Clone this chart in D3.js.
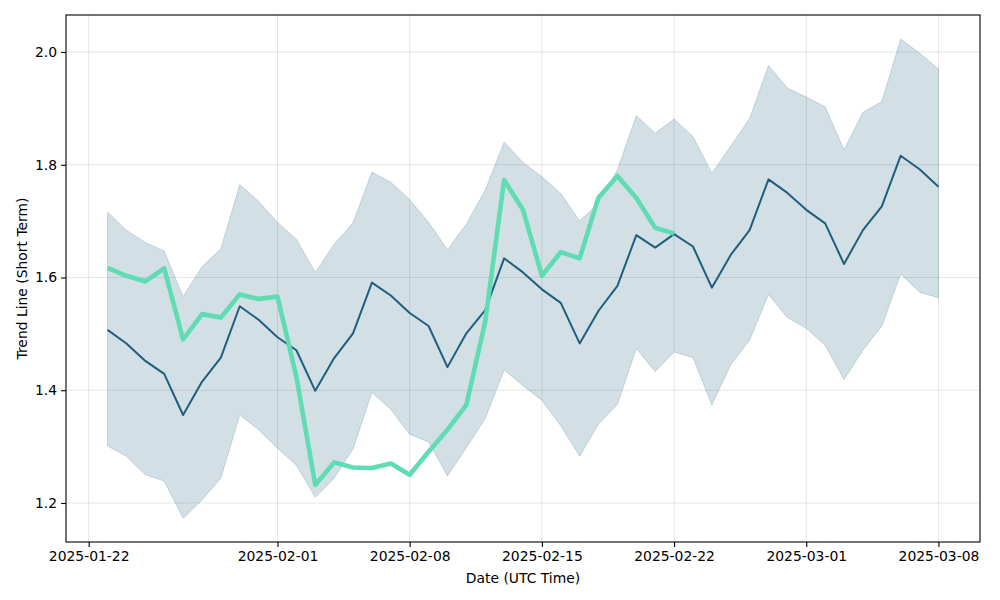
<!DOCTYPE html>
<html>
<head>
<meta charset="utf-8">
<script src="https://cdn.jsdelivr.net/npm/d3@7"></script>
<style>
  html, body { margin: 0; padding: 0; background: #fff; }
  svg { display: block; font-family: "DejaVu Sans", sans-serif; }
</style>
</head>
<body>
<svg id="chart" width="1000" height="600"></svg>
<script>
// ---- Data ----
const startDate = "2025-01-23";
const trend = [1.507,1.483,1.452,1.429,1.356,1.415,1.458,1.549,1.525,1.494,1.471,1.399,1.457,1.501,1.591,
  1.568,1.537,1.514,1.441,1.501,1.542,1.634,1.609,1.579,1.555,1.483,1.541,1.585,1.675,1.653,1.677,
  1.655,1.582,1.640,1.684,1.774,1.750,1.720,1.696,1.624,1.684,1.726,1.816,1.792,1.761];
const upper = [1.716,1.684,1.662,1.647,1.566,1.619,1.651,1.765,1.735,1.698,1.668,1.609,1.659,1.697,1.787,
  1.769,1.738,1.698,1.649,1.695,1.755,1.840,1.804,1.779,1.749,1.700,1.732,1.791,1.887,1.856,1.881,
  1.850,1.785,1.833,1.882,1.976,1.936,1.920,1.903,1.826,1.893,1.912,2.023,1.998,1.970];
const lower = [1.301,1.283,1.250,1.239,1.173,1.205,1.244,1.356,1.330,1.297,1.267,1.210,1.244,1.296,1.396,
  1.366,1.322,1.308,1.248,1.298,1.350,1.436,1.408,1.382,1.337,1.283,1.340,1.375,1.474,1.433,1.468,
  1.458,1.374,1.445,1.489,1.570,1.529,1.510,1.480,1.419,1.471,1.514,1.606,1.574,1.564];
const actual = [1.617,1.603,1.593,1.616,1.490,1.535,1.529,1.570,1.562,1.566,1.424,1.232,1.272,1.263,1.262,
  1.270,1.250,1.291,1.330,1.374,1.522,1.773,1.720,1.603,1.645,1.634,1.742,1.780,1.741,1.688,1.678];
const xTickLabels = ["2025-01-22","2025-02-01","2025-02-08","2025-02-15","2025-02-22","2025-03-01","2025-03-08"];
const yTicks = [1.2, 1.4, 1.6, 1.8, 2.0];

// ---- Setup ----
const parse = d3.utcParse("%Y-%m-%d");
const day0 = parse(startDate);
const dateAt = i => d3.utcDay.offset(day0, i);

const mL = 66, mR = 980, mT = 15, mB = 542;
const svg = d3.select("#chart");

const firstDate = dateAt(0), lastDate = dateAt(trend.length - 1);
const span = lastDate - firstDate;
const x = d3.scaleUtc()
  .domain([new Date(+firstDate - span * 0.05), new Date(+lastDate + span * 0.05)])
  .range([mL, mR]);
const y = d3.scaleLinear().domain([1.1308, 2.0656]).range([mB, mT]);

const xTicks = xTickLabels.map(parse);
const fmt = d3.utcFormat("%Y-%m-%d");

// grid
const grid = svg.append("g");
grid.selectAll("line.v").data(xTicks).join("line")
  .attr("x1", d => x(d)).attr("x2", d => x(d)).attr("y1", mT).attr("y2", mB)
  .attr("stroke", "#b0b0b0").attr("stroke-opacity", 0.4).attr("stroke-width", 0.8);
grid.selectAll("line.h").data(yTicks).join("line")
  .attr("y1", d => y(d)).attr("y2", d => y(d)).attr("x1", mL).attr("x2", mR)
  .attr("stroke", "#b0b0b0").attr("stroke-opacity", 0.4).attr("stroke-width", 0.8);

const base = "#1f5e7d";
const idx = d3.range(trend.length);

// band
const area = d3.area()
  .x(i => x(dateAt(i)))
  .y0(i => y(lower[i]))
  .y1(i => y(upper[i]));
svg.append("path").datum(idx).attr("d", area)
  .attr("fill", base).attr("fill-opacity", 0.2)
  .attr("stroke", base).attr("stroke-opacity", 0.2).attr("stroke-width", 1);

// trend line
const line = arr => d3.line().x((d, i) => x(dateAt(i))).y(d => y(d))(arr);
svg.append("path").attr("d", line(trend))
  .attr("fill", "none").attr("stroke", base).attr("stroke-width", 2)
  .attr("stroke-linejoin", "round");

// actual line
svg.append("path").attr("d", line(actual))
  .attr("fill", "none").attr("stroke", "#5fdcb4").attr("stroke-width", 4.6)
  .attr("stroke-linejoin", "round").attr("stroke-linecap", "butt");

// axes
const xAxis = d3.axisBottom(x).tickValues(xTicks).tickFormat(fmt).tickSize(4.9).tickPadding(4);
const gx = svg.append("g").attr("transform", `translate(0,${mB})`).call(xAxis);
const yAxis = d3.axisLeft(y).tickValues(yTicks).tickFormat(d3.format(".1f")).tickSize(4.9).tickPadding(4);
const gy = svg.append("g").attr("transform", `translate(${mL},0)`).call(yAxis);
[gx, gy].forEach(g => {
  g.select(".domain").remove();
  g.selectAll("text").attr("font-size", 13.9).attr("fill", "#000").attr("font-family", "DejaVu Sans");
  g.selectAll("line").attr("stroke", "#000").attr("stroke-width", 1.1);
});

// frame
svg.append("rect").attr("x", mL).attr("y", mT).attr("width", mR - mL).attr("height", mB - mT)
  .attr("fill", "none").attr("stroke", "#000").attr("stroke-width", 1.1);

// labels
svg.append("text").attr("x", (mL + mR) / 2).attr("y", 583)
  .attr("text-anchor", "middle").attr("font-size", 13.9).text("Date (UTC Time)");
svg.append("text").attr("transform", `translate(27,${(mT + mB) / 2}) rotate(-90)`)
  .attr("text-anchor", "middle").attr("font-size", 13.9).text("Trend Line (Short Term)");
</script>
</body>
</html>
